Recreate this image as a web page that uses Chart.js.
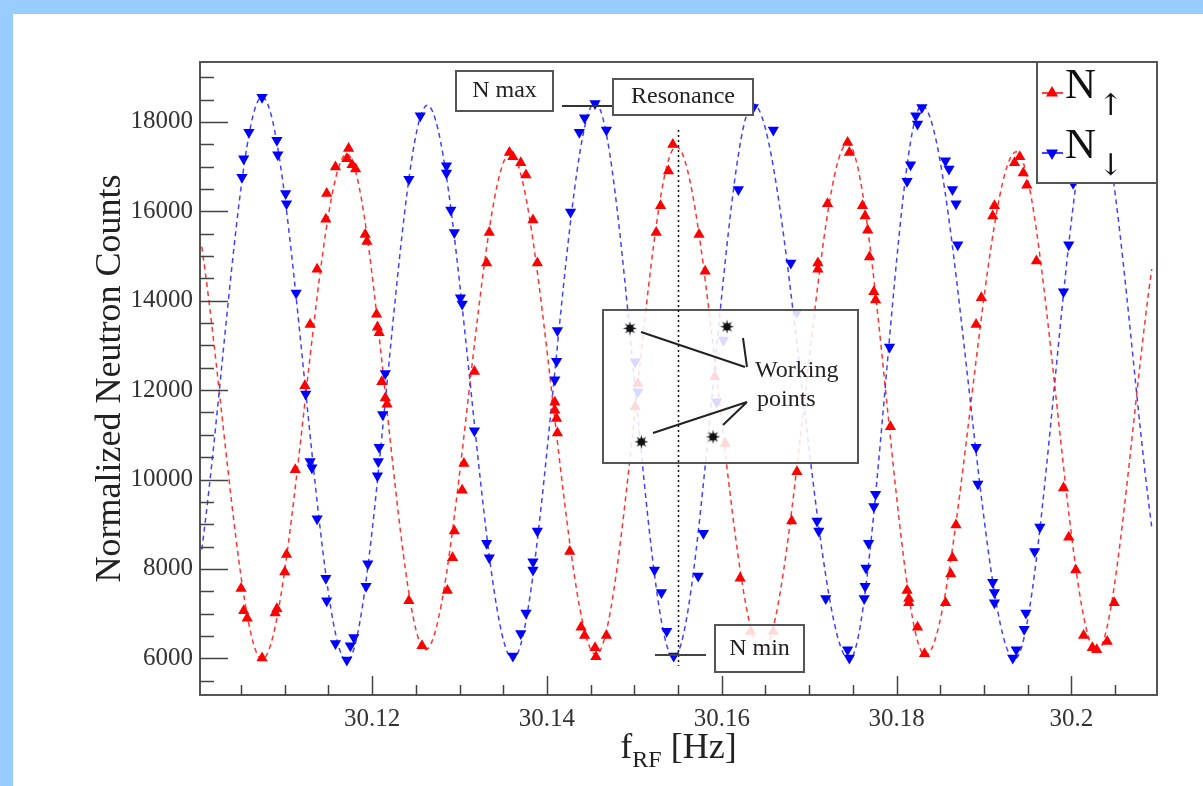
<!DOCTYPE html>
<html>
<head>
<meta charset="utf-8">
<title>Neutron counts vs RF frequency</title>
<script src="https://cdn.jsdelivr.net/npm/chart.js@4.4.1/dist/chart.umd.min.js"></script>
<style>
    html, body { margin: 0; padding: 0; background: #fff; }
    #wrap { width: 1203px; height: 786px; }
</style>
</head>
<body>
<div id="wrap"><canvas id="resonanceChart" width="1203" height="786"></canvas></div>
<script>
// N up (red, triangles up)
const upX = [30.1050, 30.1053, 30.1057, 30.1074, 30.1089, 30.1091, 30.1100, 30.1102, 30.1112, 30.1123,
    30.1129, 30.1137, 30.1147, 30.1148, 30.1158, 30.1171, 30.1173, 30.1177, 30.1181, 30.1192,
    30.1194, 30.1205, 30.1206, 30.1208, 30.1211, 30.1215, 30.1217,
    30.1242, 30.1257, 30.1286, 30.1292, 30.1294, 30.1303, 30.1305, 30.1317, 30.1331, 30.1334,
    30.1357, 30.1361, 30.1370, 30.1376, 30.1384, 30.1389, 30.1409, 30.1409, 30.1411, 30.1412,
    30.1426, 30.1439, 30.1443,
    30.1455, 30.1456, 30.1468, 30.1501, 30.1504, 30.1525, 30.1530, 30.1539, 30.1544, 30.1574,
    30.1581, 30.1592, 30.1604, 30.1621, 30.1633, 30.1659,
    30.1680, 30.1686, 30.1710, 30.1710, 30.1721, 30.1744, 30.1746, 30.1761, 30.1764, 30.1767,
    30.1769, 30.1774, 30.1776, 30.1793, 30.1812, 30.1814, 30.1814, 30.1824, 30.1832, 30.1856,
    30.1862, 30.1864, 30.1868, 30.1891,
    30.1897, 30.1910, 30.1912, 30.1935, 30.1941, 30.1945, 30.1949, 30.1960, 30.1991, 30.1997,
    30.2005, 30.2014, 30.2024, 30.2029, 30.2041, 30.2049];
const upY = [7565, 7062, 6897, 6009, 7016, 7108, 7931, 8325, 10220, 12096,
    13469, 14705, 15821, 16398, 16993, 17176, 17405, 17039, 16947, 15482,
    15327, 13698, 13405, 13286, 12188, 11821, 11684,
    7291, 6284, 7519, 8252, 8847, 9762, 10357, 12416, 14842, 15528,
    17313, 17221, 17084, 16810, 15803, 14842, 11730, 11547, 11364, 11043,
    8389, 6696, 6513,
    6238, 6037, 6513, 11627, 12150, 15528, 16123, 16901, 17496, 15482,
    14659, 12298, 10807, 7794, 6600, 6600,
    9075, 10174, 14842, 14705, 16169, 17542, 17313, 16123, 15894, 15574,
    14979, 14201, 14018, 11181, 7519, 7336, 7245, 6696, 6101, 7245,
    7886, 8252, 8984, 13469,
    14064, 15894, 16123, 17084, 17221, 16856, 16581, 14888, 9808, 8709,
    7977, 6513, 6238, 6192, 6375, 7245];

// N down (blue, triangles down)
const downX = [30.1051, 30.1053, 30.1059, 30.1074, 30.1091, 30.1092, 30.1101, 30.1102, 30.1113, 30.1124,
    30.1129, 30.1131, 30.1137, 30.1147, 30.1148, 30.1158, 30.1171, 30.1175, 30.1179, 30.1193,
    30.1195, 30.1206, 30.1207, 30.1208, 30.1212, 30.1215,
    30.1242, 30.1255, 30.1285, 30.1285, 30.1290, 30.1294, 30.1301, 30.1303, 30.1317, 30.1331,
    30.1334, 30.1361, 30.1370, 30.1376, 30.1384, 30.1384, 30.1389, 30.1409, 30.1411, 30.1412,
    30.1427, 30.1437, 30.1443,
    30.1455, 30.1468, 30.1501, 30.1504, 30.1523, 30.1531, 30.1537, 30.1545, 30.1573, 30.1579,
    30.1594, 30.1602, 30.1619, 30.1636, 30.1659,
    30.1679, 30.1686, 30.1709, 30.1711, 30.1719, 30.1744, 30.1746, 30.1763, 30.1764, 30.1765,
    30.1768, 30.1774, 30.1776, 30.1792, 30.1812, 30.1816, 30.1822, 30.1824, 30.1829, 30.1856,
    30.1860, 30.1864, 30.1868, 30.1870, 30.1891, 30.1893,
    30.1910, 30.1912, 30.1912, 30.1933, 30.1937, 30.1946, 30.1948, 30.1958, 30.1964, 30.1991,
    30.1997, 30.2002];
const downY = [16764, 17176, 17771, 18549, 17588, 17268, 16398, 16169, 14174, 11913,
    10403, 10265, 9121, 7794, 7291, 6330, 5963, 6284, 6467, 7611,
    8114, 10082, 10403, 10723, 11455, 12370,
    16718, 18137, 17020, 16856, 16032, 15528, 14064, 13927, 11089, 8572,
    8252, 6055, 6558, 7016, 7977, 8160, 8847, 12233, 12645, 13332,
    15986, 17771, 18091,
    18411, 17817, 12634, 11962, 7977, 7474, 6604, 6055, 7840, 8801,
    11739, 13120, 16489, 18320, 17817,
    14842, 13743, 9075, 8847, 7336, 6192, 6009, 7336, 7611, 8023,
    8572, 9396, 9670, 12965, 16673, 17039, 18137, 17954, 18320, 17130,
    16947, 16489, 16169, 15254, 10723, 9899,
    7702, 7474, 7245, 6009, 6192, 6650, 7016, 8389, 8938, 14201,
    15254, 16627];

// fitted curves, read at their ends and turning points
const upFitX = [30.1005, 30.1074, 30.1171, 30.1261, 30.1358, 30.1456, 30.1548, 30.1646, 30.1744, 30.1833, 30.1937, 30.2029, 30.2092];
const upFitY = [15208, 5980, 17280, 6190, 17300, 6080, 17450, 6150, 17520, 6060, 17330, 6150, 14705];
const downFitX = [30.1005, 30.1074, 30.1171, 30.1263, 30.1361, 30.1455, 30.1545, 30.1636, 30.1746, 30.1829, 30.1935, 30.2027, 30.2092];
const downFitY = [8435, 18560, 5940, 18370, 5990, 18430, 6020, 18400, 5970, 18370, 5980, 18350, 8938];

// working points
const workX = [30.1495, 30.1508, 30.1606, 30.1590];
const workY = [13382, 10843, 13418, 10955];

// axes
const xTickVals = [30.12, 30.14, 30.16, 30.18, 30.2];
const yTickVals = [6000, 8000, 10000, 12000, 14000, 16000, 18000];
const resonanceFreq = 30.155;
const xMin = 30.1003, xMax = 30.2098;
const yMin = 5180, yMax = 19340;

const pts = (xs, ys) => xs.map((x, i) => ({ x: x, y: ys[i] }));

const RED = 'rgb(255, 0, 0)';
const BLUE = 'rgb(0, 0, 255)';
const FRAME = '#555';
const SERIF = '"Liberation Serif", "DejaVu Serif", "Times New Roman", serif';

function makeStar(size) {
    const c = document.createElement('canvas');
    c.width = c.height = size;
    const g = c.getContext('2d');
    const m = size / 2, ro = m - 0.5, ri = ro * 0.42;
    g.beginPath();
    for (let i = 0; i < 16; i++) {
        const a = i * Math.PI / 8 - Math.PI / 2;
        const r = i % 2 ? ri : ro;
        g.lineTo(m + r * Math.cos(a), m + r * Math.sin(a));
    }
    g.closePath();
    g.fillStyle = '#111';
    g.fill();
    g.beginPath();
    g.arc(m, m, ri * 1.2, 0, 2 * Math.PI);
    g.fill();
    return c;
}

function triangle(ctx, x, y, r, up) {
    const s = up ? -1 : 1;
    ctx.beginPath();
    ctx.moveTo(x, y + s * r);
    ctx.lineTo(x + r * 0.866, y - s * r * 0.5);
    ctx.lineTo(x - r * 0.866, y - s * r * 0.5);
    ctx.closePath();
    ctx.fill();
}

function box(ctx, x, y, w, h, fill) {
    ctx.fillStyle = fill;
    ctx.fillRect(x, y, w, h);
    ctx.lineWidth = 2;
    ctx.strokeStyle = FRAME;
    ctx.strokeRect(x, y, w, h);
}

function label(ctx, text, x, y, size) {
    ctx.font = size + 'px ' + SERIF;
    ctx.fillStyle = '#222';
    ctx.textAlign = 'center';
    ctx.textBaseline = 'middle';
    ctx.fillText(text, x, y);
}

const decor = {
    id: 'decor',
    beforeDraw(chart) {
        const ctx = chart.ctx;
        ctx.save();
        ctx.fillStyle = '#9cf';
        ctx.fillRect(0, 0, chart.width, chart.height);
        ctx.fillStyle = '#fff';
        ctx.fillRect(13, 14, chart.width - 13, chart.height - 14);
        ctx.restore();
    },
    beforeDatasetDraw(chart, args) {
        if (args.index !== 4) return;
        const ctx = chart.ctx;
        const x = chart.scales.x;
        ctx.save();
        // working points panel and N min panel (semi transparent)
        box(ctx, 603, 310, 255, 153, 'rgba(255,255,255,0.85)');
        box(ctx, 715, 625, 89, 47, 'rgba(255,255,255,0.85)');
        label(ctx, 'N min', 759.5, 649, 24);

        // resonance line
        const xr = Math.round(x.getPixelForValue(resonanceFreq)) + 0.5;
        ctx.strokeStyle = '#111';
        ctx.lineWidth = 1.5;
        ctx.setLineDash([2, 3]);
        ctx.beginPath();
        ctx.moveTo(xr, 130);
        ctx.lineTo(xr, 666);
        ctx.stroke();
        ctx.setLineDash([]);

        // N min marker line
        ctx.strokeStyle = '#444';
        ctx.lineWidth = 2;
        ctx.beginPath();
        ctx.moveTo(655, 655);
        ctx.lineTo(706, 655);
        ctx.stroke();

        // pointer lines to the working points
        ctx.strokeStyle = '#222';
        ctx.lineWidth = 2;
        ctx.beginPath();
        ctx.moveTo(641, 332); ctx.lineTo(745, 367);
        ctx.moveTo(743, 338); ctx.lineTo(747, 367);
        ctx.moveTo(653, 433); ctx.lineTo(747, 402);
        ctx.moveTo(723, 425); ctx.lineTo(747, 402);
        ctx.stroke();

        ctx.font = '24px ' + SERIF;
        ctx.fillStyle = '#222';
        ctx.textAlign = 'left';
        ctx.textBaseline = 'alphabetic';
        ctx.fillText('Working', 755, 377);
        ctx.fillText('points', 757, 406);
        ctx.restore();
    },
    afterDatasetsDraw(chart) {
        const ctx = chart.ctx;
        const a = chart.chartArea;
        const x = chart.scales.x, y = chart.scales.y;
        ctx.save();

        // frame
        ctx.strokeStyle = FRAME;
        ctx.lineWidth = 2;
        ctx.strokeRect(a.left, a.top, a.right - a.left, a.bottom - a.top);

        // ticks inside the frame
        ctx.lineWidth = 1.5;
        ctx.strokeStyle = '#444';
        ctx.beginPath();
        for (let k = Math.ceil(xMin / 0.005); k * 0.005 <= xMax; k++) {
            const px = Math.round(x.getPixelForValue(k * 0.005)) + 0.5;
            const len = k % 4 === 0 ? 19 : 10;
            ctx.moveTo(px, a.bottom);
            ctx.lineTo(px, a.bottom - len);
        }
        for (let k = Math.ceil(yMin / 500); k * 500 <= yMax; k++) {
            const py = Math.round(y.getPixelForValue(k * 500)) + 0.5;
            const len = k % 4 === 0 ? 28 : 14;
            ctx.moveTo(a.left, py);
            ctx.lineTo(a.left + len, py);
        }
        ctx.stroke();

        // N max and Resonance labels
        ctx.strokeStyle = '#333';
        ctx.lineWidth = 2;
        ctx.beginPath();
        ctx.moveTo(562, 106);
        ctx.lineTo(613, 106);
        ctx.stroke();
        box(ctx, 456, 71, 97, 40, '#fff');
        label(ctx, 'N max', 504.5, 91, 24);
        box(ctx, 613, 79, 140, 36, '#fff');
        label(ctx, 'Resonance', 683, 97, 24);

        // legend
        box(ctx, 1037, 62, a.right - 1037, 121, '#fff');
        const rows = [[RED, 93, true, '\u2191', 98], [BLUE, 153, false, '\u2193', 158]];
        rows.forEach(([col, my, up, arrow, base]) => {
            ctx.strokeStyle = col;
            ctx.lineWidth = 1.5;
            ctx.beginPath();
            ctx.moveTo(1042, my);
            ctx.lineTo(1063, my);
            ctx.stroke();
            ctx.fillStyle = col;
            triangle(ctx, 1052, my, 7, up);
            ctx.fillStyle = '#111';
            ctx.textAlign = 'left';
            ctx.textBaseline = 'alphabetic';
            ctx.font = '43px ' + SERIF;
            ctx.fillText('N', 1065, base);
            ctx.font = '30px "DejaVu Serif", serif';
            ctx.fillText(arrow, 1098, base + 17);
        });

        // axis titles
        ctx.fillStyle = '#222';
        ctx.save();
        ctx.translate(120, (a.top + a.bottom) / 2);
        ctx.rotate(-Math.PI / 2);
        ctx.font = '36px ' + SERIF;
        ctx.textAlign = 'center';
        ctx.textBaseline = 'alphabetic';
        ctx.fillText('Normalized Neutron Counts', 0, 0);
        ctx.restore();

        ctx.textAlign = 'left';
        ctx.textBaseline = 'alphabetic';
        ctx.font = '36px ' + SERIF;
        const wf = ctx.measureText('f').width;
        const wh = ctx.measureText(' [Hz]').width;
        ctx.font = '24px ' + SERIF;
        const ws = ctx.measureText('RF').width;
        let tx = (a.left + a.right) / 2 - (wf + ws + wh) / 2;
        ctx.font = '36px ' + SERIF;
        ctx.fillText('f', tx, 758);
        ctx.font = '24px ' + SERIF;
        ctx.fillText('RF', tx + wf, 767);
        ctx.font = '36px ' + SERIF;
        ctx.fillText(' [Hz]', tx + wf + ws, 758);

        ctx.restore();
    }
};

const starImg = makeStar(15);

new Chart(document.getElementById('resonanceChart'), {
    type: 'scatter',
    data: {
        datasets: [
            {
                label: 'N\u2191 fit',
                data: pts(upFitX, upFitY),
                showLine: true,
                cubicInterpolationMode: 'monotone',
                borderColor: 'rgba(255, 0, 0, 0.8)',
                borderWidth: 1.5,
                borderDash: [5, 4],
                pointRadius: 0,
                order: 3
            },
            {
                label: 'N\u2193 fit',
                data: pts(downFitX, downFitY),
                showLine: true,
                cubicInterpolationMode: 'monotone',
                borderColor: 'rgba(0, 0, 255, 0.75)',
                borderWidth: 1.5,
                borderDash: [5, 4],
                pointRadius: 0,
                order: 3
            },
            {
                label: 'N\u2191',
                data: pts(upX, upY),
                pointStyle: 'triangle',
                pointRadius: 6.5,
                backgroundColor: RED,
                borderColor: RED,
                borderWidth: 0,
                order: 2
            },
            {
                label: 'N\u2193',
                data: pts(downX, downY),
                pointStyle: 'triangle',
                rotation: 180,
                pointRadius: 6.5,
                backgroundColor: BLUE,
                borderColor: BLUE,
                borderWidth: 0,
                order: 1
            },
            {
                label: 'Working points',
                data: pts(workX, workY),
                pointStyle: starImg,
                pointRadius: 7,
                order: 0
            }
        ]
    },
    options: {
        responsive: false,
        animation: false,
        events: [],
        layout: { padding: { top: 62, right: 46, left: 0, bottom: 0 } },
        plugins: {
            legend: { display: false },
            tooltip: { enabled: false }
        },
        scales: {
            x: {
                type: 'linear',
                min: xMin,
                max: xMax,
                afterFit: s => { s.height = 91; },
                afterBuildTicks: s => { s.ticks = xTickVals.map(v => ({ value: v })); },
                grid: { display: false, drawTicks: false },
                border: { display: false },
                ticks: {
                    autoSkip: false,
                    maxRotation: 0,
                    minRotation: 0,
                    padding: 9,
                    color: '#333',
                    font: { family: SERIF, size: 25 },
                    callback: v => String(+v.toFixed(2))
                }
            },
            y: {
                type: 'linear',
                min: yMin,
                max: yMax,
                afterFit: s => { s.width = 200; },
                afterBuildTicks: s => { s.ticks = yTickVals.map(v => ({ value: v })); },
                grid: { display: false, drawTicks: false },
                border: { display: false },
                ticks: {
                    autoSkip: false,
                    padding: 7,
                    color: '#333',
                    font: { family: SERIF, size: 25 },
                    callback: v => String(v)
                }
            }
        }
    },
    plugins: [decor]
});
</script>
</body>
</html>
